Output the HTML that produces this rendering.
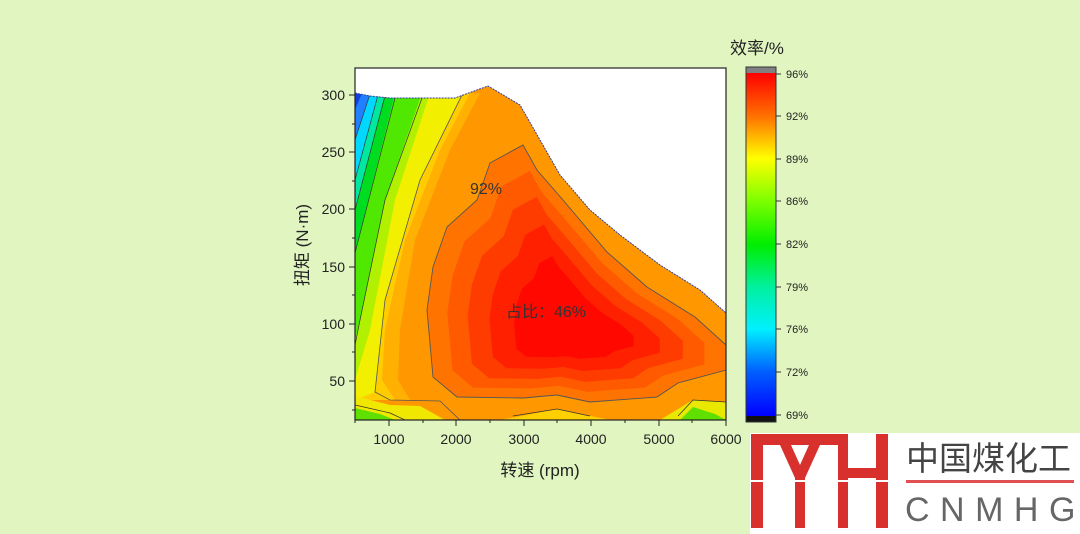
<!DOCTYPE html>
<html><head><meta charset="utf-8"><style>
html,body{margin:0;padding:0;background:#e0f5c0;}
svg{display:block;}
text{font-family:"Liberation Sans","Noto Sans CJK SC",sans-serif;}
</style></head><body>
<svg width="1080" height="534" viewBox="0 0 1080 534" xmlns="http://www.w3.org/2000/svg">
<defs>
<clipPath id="env"><polygon points="355,93 370,96 390,98 420,98 455,98 488,86 520,105 540,140 560,175 590,210 620,235 660,265 700,290 726,313 726,420 355,420"/></clipPath>
<polygon id="c92" points="490,163 523,145 537,170 563,200 607,252 647,287 695,317 726,345 726,370 678,383 657,397 590,402 557,395 523,398 457,397 433,377 427,310 433,267 447,227 477,200"/>
<linearGradient id="cb" x1="0" y1="0" x2="0" y2="1">
<stop offset="0" stop-color="#ff0000"/><stop offset="0.125" stop-color="#ff7000"/>
<stop offset="0.249" stop-color="#ffff00"/><stop offset="0.37" stop-color="#80ff00"/>
<stop offset="0.5" stop-color="#00ee00"/><stop offset="0.625" stop-color="#00f0a0"/>
<stop offset="0.747" stop-color="#00f0ff"/><stop offset="0.87" stop-color="#0060ff"/>
<stop offset="1" stop-color="#0000ff"/></linearGradient>
</defs>
<rect x="355" y="68" width="371" height="352" fill="#fff"/>
<g clip-path="url(#env)">
<rect x="355" y="68" width="371" height="352" fill="#ff9800"/>
<polygon points="355,93 480,93 450,150 415,240 400,330 398,380 410,400 355,400" fill="#ffb000"/>
<polygon points="355,93 470,93 440,150 405,240 385,330 382,380 395,400 355,400" fill="#ffcc00"/>
<polygon points="355,93 462,93 420,180 385,300 375,392 355,400" fill="#f2f000"/>
<polygon points="355,93 430,93 395,200 370,330 355,380" fill="#b0f000"/>
<polygon points="355,93 422,93 385,200 360,320 355,340" fill="#50e800"/>
<polygon points="355,93 395,93 355,253" fill="#00dc20"/>
<polygon points="355,93 385,93 355,210" fill="#00e8a0"/>
<polygon points="355,93 378,93 355,180" fill="#00d8ff"/>
<polygon points="355,93 370,93 355,140" fill="#2080ff"/>
<polygon points="355,93 362,93 355,110" fill="#1040e0"/>
<polygon points="355,396 390,405 420,406 445,420 355,420" fill="#f0e800"/>
<polygon points="355,408 380,414 395,420 355,420" fill="#60e000"/>
<polygon points="500,420 557,409 610,420" fill="#ffd000"/>
<polygon points="660,420 693,400 726,402 726,420" fill="#e8e800"/>
<polygon points="680,420 693,407 715,414 726,420" fill="#60e000"/>
<use href="#c92" fill="#ff7400" stroke="#555" stroke-width="0.9"/>
<use href="#c92" fill="#ff5a00" transform="translate(572,330) scale(0.86) translate(-572,-330)"/>
<use href="#c92" fill="#ff3c00" transform="translate(572,330) scale(0.72) translate(-572,-330)"/>
<use href="#c92" fill="#ff2000" transform="translate(572,330) scale(0.57) translate(-572,-330)"/>
<use href="#c92" fill="#ff0800" transform="translate(572,330) scale(0.4) translate(-572,-330)"/>
<polyline points="462,95 420,180 385,300 375,392 390,400 440,401 460,420" fill="none" stroke="#555" stroke-width="0.8"/>
<polyline points="422,98 385,200 360,320 355,345" fill="none" stroke="#333" stroke-width="0.7"/>
<polyline points="395,98 355,253" fill="none" stroke="#333" stroke-width="0.7"/>
<polyline points="385,96 355,210" fill="none" stroke="#333" stroke-width="0.7"/>
<polyline points="378,95 355,180" fill="none" stroke="#333" stroke-width="0.7"/>
<polyline points="370,94 355,140" fill="none" stroke="#333" stroke-width="0.7"/>
<polyline points="355,405 390,413 405,420" fill="none" stroke="#333" stroke-width="0.7"/>
<polyline points="513,416 557,409 590,416" fill="none" stroke="#333" stroke-width="0.7"/>
<polyline points="678,416 693,400 726,402" fill="none" stroke="#333" stroke-width="0.7"/>
</g>
<polyline points="355,93 370,96 390,98 420,98 455,98 488,86 520,105 540,140 560,175 590,210 620,235 660,265 700,290 726,313" fill="none" stroke="#3040a0" stroke-width="1" stroke-dasharray="2,1"/>
<rect x="355" y="68" width="371" height="352" fill="none" stroke="#222" stroke-width="1.2"/>
<g stroke="#222" stroke-width="1">
<line x1="349" y1="95" x2="355" y2="95"/><line x1="349" y1="152" x2="355" y2="152"/><line x1="349" y1="209" x2="355" y2="209"/><line x1="349" y1="267" x2="355" y2="267"/><line x1="349" y1="324" x2="355" y2="324"/><line x1="349" y1="381" x2="355" y2="381"/>
<line x1="352" y1="124" x2="355" y2="124"/><line x1="352" y1="181" x2="355" y2="181"/><line x1="352" y1="238" x2="355" y2="238"/><line x1="352" y1="295" x2="355" y2="295"/><line x1="352" y1="352" x2="355" y2="352"/><line x1="352" y1="410" x2="355" y2="410"/>
<line x1="389" y1="420" x2="389" y2="426"/><line x1="456" y1="420" x2="456" y2="426"/><line x1="524" y1="420" x2="524" y2="426"/><line x1="591" y1="420" x2="591" y2="426"/><line x1="659" y1="420" x2="659" y2="426"/><line x1="726" y1="420" x2="726" y2="426"/>
<line x1="355" y1="420" x2="355" y2="423"/><line x1="423" y1="420" x2="423" y2="423"/><line x1="490" y1="420" x2="490" y2="423"/><line x1="557" y1="420" x2="557" y2="423"/><line x1="625" y1="420" x2="625" y2="423"/><line x1="692" y1="420" x2="692" y2="423"/>
</g>
<g font-size="14" fill="#222" text-anchor="end">
<text x="345" y="100">300</text><text x="345" y="157">250</text><text x="345" y="214">200</text><text x="345" y="272">150</text><text x="345" y="329">100</text><text x="345" y="386">50</text>
</g>
<g font-size="14" fill="#222" text-anchor="middle">
<text x="389" y="444">1000</text><text x="456" y="444">2000</text><text x="524" y="444">3000</text><text x="591" y="444">4000</text><text x="659" y="444">5000</text><text x="726" y="444">6000</text>
</g>
<text x="540" y="476" font-size="17" text-anchor="middle" fill="#222">转速 (rpm)</text>
<text transform="translate(308,245) rotate(-90)" font-size="17" text-anchor="middle" fill="#222">扭矩 (N·m)</text>
<text x="486" y="194" font-size="16" text-anchor="middle" fill="#333">92%</text>
<text x="546" y="317" font-size="16" text-anchor="middle" fill="#333">占比：46%</text>
<text x="730" y="54" font-size="17" fill="#222">效率/%</text>
<rect x="746" y="67" width="30" height="6" fill="#808080"/>
<rect x="746" y="73" width="30" height="343" fill="url(#cb)"/>
<rect x="746" y="416" width="30" height="6" fill="#111"/>
<rect x="746" y="67" width="30" height="355" fill="none" stroke="#333" stroke-width="1"/>
<g stroke="#333"><line x1="776" y1="74" x2="781" y2="74"/><line x1="776" y1="116" x2="781" y2="116"/><line x1="776" y1="159" x2="781" y2="159"/><line x1="776" y1="201" x2="781" y2="201"/><line x1="776" y1="244" x2="781" y2="244"/><line x1="776" y1="287" x2="781" y2="287"/><line x1="776" y1="329" x2="781" y2="329"/><line x1="776" y1="372" x2="781" y2="372"/><line x1="776" y1="415" x2="781" y2="415"/></g>
<g font-size="11" fill="#222">
<text x="786" y="78">96%</text><text x="786" y="120">92%</text><text x="786" y="163">89%</text><text x="786" y="205">86%</text><text x="786" y="248">82%</text><text x="786" y="291">79%</text><text x="786" y="333">76%</text><text x="786" y="376">72%</text><text x="786" y="419">69%</text>
</g>
<rect x="750" y="433" width="330" height="101" fill="#fff"/>
<g fill="#d8302c">
<rect x="751" y="434" width="12" height="94"/>
<rect x="751" y="434" width="97" height="11"/>
<polygon points="780,445 791,445 800,465 809,445 820,445 805,478 795,478"/>
<rect x="795" y="470" width="10" height="58"/>
<rect x="838" y="434" width="10" height="94"/>
<rect x="876" y="434" width="12" height="94"/>
<rect x="848" y="468" width="28" height="10"/>
</g>
<rect x="750" y="480" width="140" height="2" fill="#fff"/>
<text x="906" y="470" font-size="33" fill="#444">中国煤化工</text>
<rect x="906" y="480" width="168" height="3" fill="#e05050"/>
<text x="905" y="521" font-size="34" fill="#666" letter-spacing="10.5">CNMHG</text>
</svg>
</body></html>
